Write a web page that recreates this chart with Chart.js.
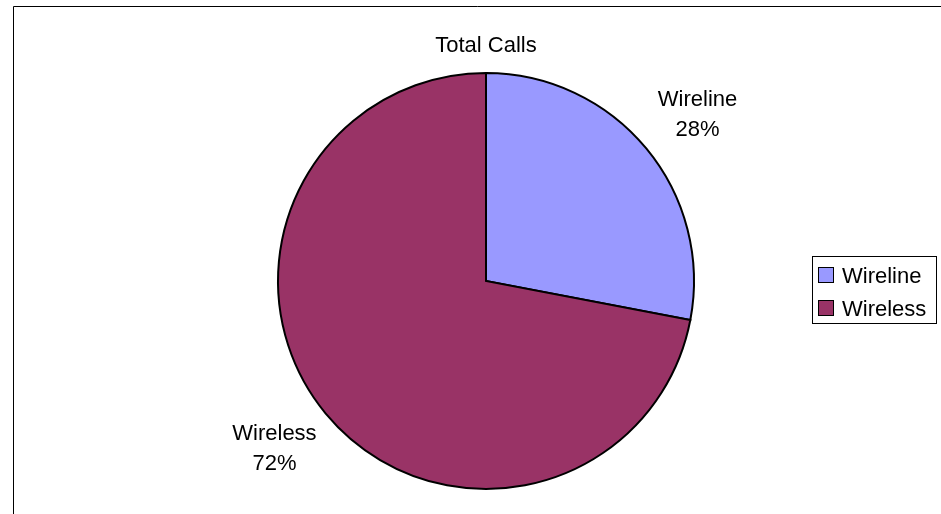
<!DOCTYPE html>
<html>
<head>
<meta charset="utf-8">
<script src="https://cdn.jsdelivr.net/npm/chart.js@4"></script>
<style>
  html, body { margin: 0; padding: 0; background: #ffffff; }
  #wrap { width: 941px; height: 514px; position: relative; }
</style>
</head>
<body>
<div id="wrap"><canvas id="c" width="941" height="514"></canvas></div>
<script>
// Call volume split
const categories = ['Wireline', 'Wireless'];
const callShares = [28, 72];
const sliceColors = ['#9999FF', '#993366'];
const chartTitle = 'Total Calls';

const FONT = '22px "Liberation Sans", Arial, sans-serif';

// Frame, title, slice labels and legend box
const decorations = {
  id: 'decorations',
  beforeDraw(chart) {
    const ctx = chart.ctx;
    ctx.save();
    ctx.fillStyle = '#ffffff';
    ctx.fillRect(0, 0, chart.width, chart.height);
    ctx.strokeStyle = '#000000';
    ctx.lineWidth = 1;
    ctx.beginPath();
    ctx.moveTo(13.5, chart.height);
    ctx.lineTo(13.5, 6.5);
    ctx.lineTo(chart.width, 6.5);
    ctx.stroke();
    ctx.restore();
  },
  afterDatasetsDraw(chart) {
    const ctx = chart.ctx;
    const meta = chart.getDatasetMeta(0);
    const values = chart.data.datasets[0].data;
    const total = values.reduce((a, b) => a + b, 0);
    ctx.save();
    ctx.font = FONT;
    ctx.fillStyle = '#000000';
    ctx.textAlign = 'center';
    ctx.textBaseline = 'alphabetic';

    const first = meta.data[0].getProps(['x', 'y', 'outerRadius'], true);
    // title
    ctx.fillText(chartTitle, first.x, 52);

    // slice labels outside the pie
    meta.data.forEach((arc, i) => {
      const p = arc.getProps(['x', 'y', 'startAngle', 'endAngle', 'outerRadius'], true);
      const mid = (p.startAngle + p.endAngle) / 2;
      const cx = p.x + Math.cos(mid) * p.outerRadius * 1.32;
      const cy = p.y + Math.sin(mid) * p.outerRadius * 1.257;
      const pct = Math.round(values[i] / total * 100) + '%';
      ctx.fillText(chart.data.labels[i], cx, cy - 8);
      ctx.fillText(pct, cx, cy + 22);
    });

    // legend
    ctx.lineWidth = 1;
    ctx.strokeStyle = '#000000';
    ctx.strokeRect(812.5, 256.5, 124, 67);
    ctx.textAlign = 'left';
    chart.data.labels.forEach((lab, i) => {
      const y = 267.5 + i * 33;
      ctx.fillStyle = chart.data.datasets[0].backgroundColor[i];
      ctx.fillRect(818.5, y, 15, 15);
      ctx.strokeRect(818.5, y, 15, 15);
      ctx.fillStyle = '#000000';
      ctx.fillText(lab, 842, y + 15);
    });
    ctx.restore();
  }
};

new Chart(document.getElementById('c'), {
  type: 'pie',
  data: {
    labels: categories,
    datasets: [{
      data: callShares,
      backgroundColor: sliceColors,
      borderColor: '#000000',
      borderWidth: 2,
      borderJoinStyle: 'miter'
    }]
  },
  options: {
    responsive: false,
    animation: false,
    layout: { padding: { left: 277, right: 246, top: 71, bottom: 23 } },
    plugins: {
      legend: { display: false },
      tooltip: { enabled: false },
      title: { display: false }
    }
  },
  plugins: [decorations]
});
</script>
</body>
</html>
